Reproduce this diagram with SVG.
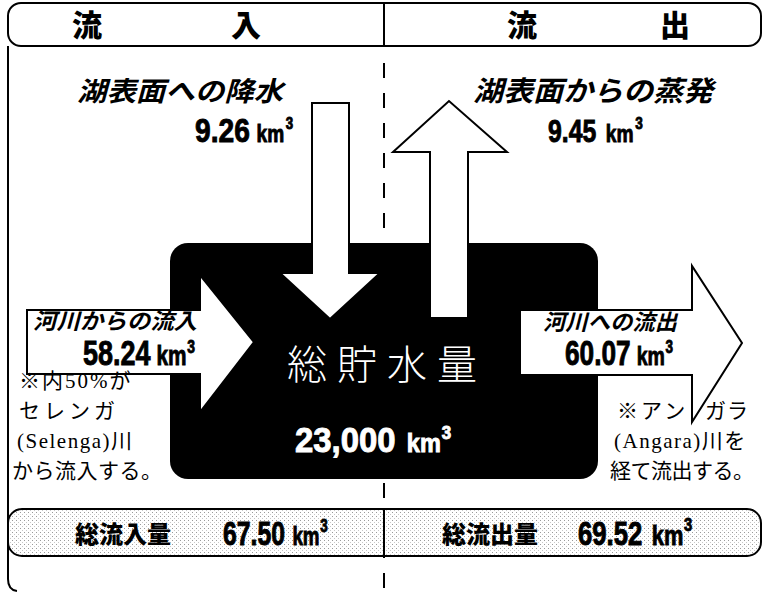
<svg xmlns="http://www.w3.org/2000/svg" width="763" height="593" viewBox="0 0 763 593">
<style>
.frame{fill:none;stroke:#000;stroke-width:2}
.arrow{fill:#fff;stroke:#000;stroke-width:2;stroke-linejoin:miter}
.hdr{font-family:"Noto Sans CJK JP",sans-serif;font-weight:900;font-size:30px;fill:#000}
.ttl{font-family:"Noto Sans CJK JP",sans-serif;font-weight:bold;font-style:italic;fill:#000}
.num{font-family:"Liberation Sans","Noto Sans",sans-serif;font-weight:bold;fill:#000;stroke:#000;stroke-width:0.9}
.note{font-family:"Liberation Serif","Noto Sans CJK JP",serif;font-size:21px;fill:#000}
.tot{font-family:"Noto Sans CJK JP",sans-serif;font-weight:900;font-size:24px;fill:#000}
.wt{fill:#fff;stroke:#fff}
</style>
<defs>
<pattern id="dots" width="4" height="4" patternUnits="userSpaceOnUse">
<rect width="4" height="4" fill="#fff"/>
<rect x="0" y="0" width="1" height="1" fill="#9a9a9a"/>
<rect x="2" y="2" width="1" height="1" fill="#c8c8c8"/>
</pattern>
</defs>

<g id="frame">
<rect class="frame" x="8" y="3" width="753" height="43" rx="13"/>
<path class="frame" d="M8,46 L8,579 Q8,590 17,591"/>
<text class="hdr" x="72" y="36">流</text>
<text class="hdr" x="231" y="36">入</text>
<text class="hdr" x="507" y="36">流</text>
<text class="hdr" x="660" y="36">出</text>
</g>

<g id="divider">
<line x1="384" y1="3" x2="384" y2="46" stroke="#000" stroke-width="2"/>
<line x1="384" y1="63" x2="384" y2="593" stroke="#000" stroke-width="2" stroke-dasharray="15 15"/>
</g>

<g id="lake">
<rect x="170" y="243" width="428" height="236" rx="18" fill="#000"/>
<text x="287" y="379" letter-spacing="10" font-family="'Noto Sans CJK JP',sans-serif" font-weight="300" font-size="40" fill="#fff">総貯水量</text>
<text class="num wt" transform="translate(295,452) scale(0.94,1)" font-size="35">23,000<tspan font-size="25" dx="12">km</tspan><tspan font-size="18" dx="1" dy="-13">3</tspan></text>
</g>

<g id="connectors">
<polygon id="precip-arrow" class="arrow" points="312,103 349,103 349,273 380,273 330,319 280,273 312,273"/>
<polygon id="evap-arrow" class="arrow" points="430,318 430,152 393,152 449,101 507,152 468,152 468,318"/>
<polygon id="inflow-arrow" class="arrow" points="27,310 200,310 200,275 254,342 200,412 200,374 27,374"/>
<polygon id="outflow-arrow" class="arrow" points="520,310 692,310 692,266 742,343 692,422 692,375 520,375"/>
</g>

<g id="precip">
<text class="ttl" x="77" y="101" font-size="27" textLength="206" lengthAdjust="spacingAndGlyphs">湖表面への降水</text>
<text class="num" transform="translate(195,142) scale(0.83,1)" font-size="34">9.26<tspan font-size="23" dx="8">km</tspan><tspan font-size="16" dx="2" dy="-13">3</tspan></text>
</g>

<g id="evap">
<text class="ttl" x="473" y="101" font-size="28" textLength="240" lengthAdjust="spacingAndGlyphs">湖表面からの蒸発</text>
<text class="num" transform="translate(548,142) scale(0.8,1)" font-size="31">9.45<tspan font-size="24" dx="12">km</tspan><tspan font-size="17" dx="2" dy="-13">3</tspan></text>
</g>

<g id="inflow">
<text class="ttl" x="33" y="329" font-size="22" textLength="164" lengthAdjust="spacingAndGlyphs">河川からの流入</text>
<text class="num" transform="translate(83,365) scale(0.77,1)" font-size="35">58.24<tspan font-size="27" dx="8">km</tspan><tspan font-size="18" dx="1" dy="-12">3</tspan></text>
<text class="note" x="19" y="388" letter-spacing="2">※内50%が</text>
<text class="note" x="19" y="418" letter-spacing="4">セレンガ</text>
<text class="note" x="17" y="448" letter-spacing="1.5">(Selenga)川</text>
<text class="note" x="12" y="478" letter-spacing="0.5">から流入する。</text>
</g>

<g id="outflow">
<text class="ttl" x="543" y="330" font-size="22" textLength="134" lengthAdjust="spacingAndGlyphs">河川への流出</text>
<text class="num" transform="translate(565,365) scale(0.75,1)" font-size="35">60.07<tspan font-size="26" dx="8">km</tspan><tspan font-size="18" dx="1" dy="-12">3</tspan></text>
<text class="note" x="617" y="418" letter-spacing="3">※アン</text>
<text class="note" x="705" y="418" letter-spacing="1">ガラ</text>
<text class="note" x="614" y="448" letter-spacing="1.5">(Angara)川を</text>
<text class="note" x="610" y="478" letter-spacing="-0.5">経て流出する。</text>
</g>

<g id="totals">
<rect x="8" y="509" width="753" height="47" rx="14" fill="url(#dots)" stroke="#000" stroke-width="2"/>
<line x1="384" y1="509" x2="384" y2="556" stroke="#000" stroke-width="2"/>
<text class="tot" x="75" y="543">総流入量</text>
<text class="num" transform="translate(223,545) scale(0.75,1)" font-size="33">67.50<tspan font-size="25" dx="10">km</tspan><tspan font-size="18" dx="1" dy="-13">3</tspan></text>
<text class="tot" x="442" y="543">総流出量</text>
<text class="num" transform="translate(578,545) scale(0.78,1)" font-size="33">69.52<tspan font-size="28" dx="12">km</tspan><tspan font-size="19" dx="1" dy="-14">3</tspan></text>
</g>
</svg>
